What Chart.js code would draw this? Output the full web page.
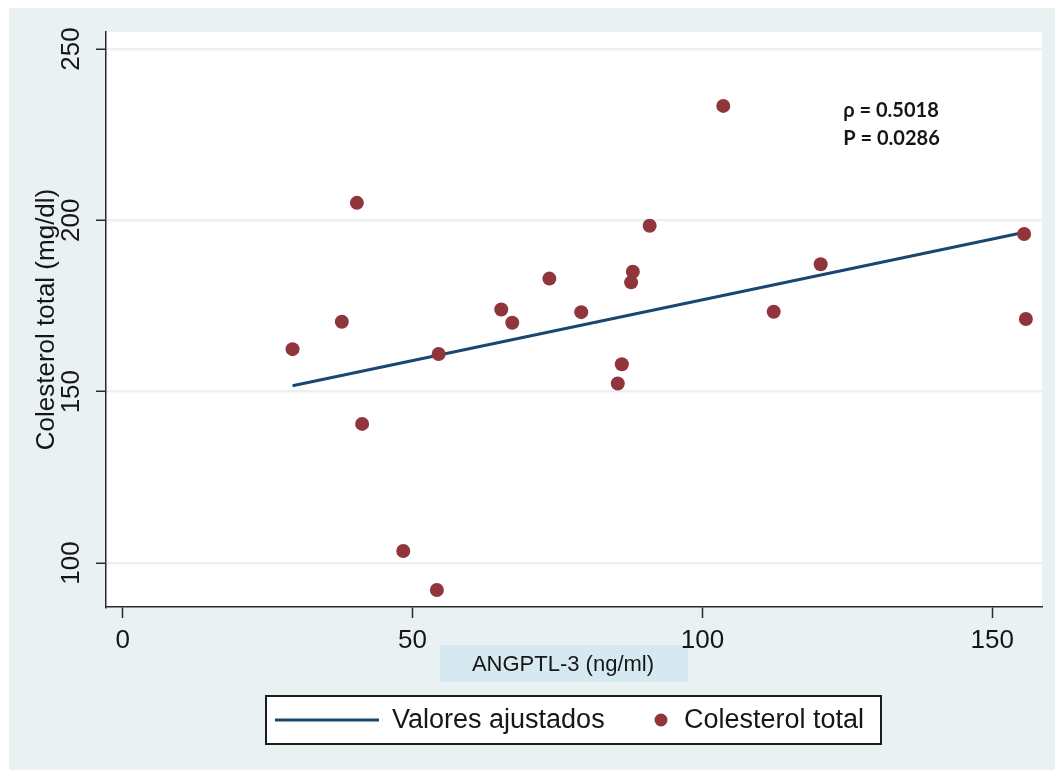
<!DOCTYPE html>
<html>
<head>
<meta charset="utf-8">
<script src="https://cdn.jsdelivr.net/npm/chart.js@4/dist/chart.umd.min.js"></script>
<style>
  html, body { margin: 0; padding: 0; background: #ffffff; }
  canvas { display: block; }
</style>
</head>
<body>
<canvas id="chart" width="1055" height="770"></canvas>
<script>
// ANGPTL-3 (ng/ml) against total cholesterol (mg/dl), one value per patient
const angptl3 = [29.3, 37.8, 40.4, 41.3, 48.4, 54.2, 54.5, 65.3, 67.2, 73.6, 79.1,
                 85.4, 86.1, 87.7, 88.0, 90.9, 103.6, 112.3, 120.4, 155.5, 155.8];
const colesterol = [162.4, 170.4, 205.1, 140.6, 103.5, 92.1, 161.0, 174.0, 170.1, 183.0, 173.2,
                    152.4, 158.0, 181.9, 185.0, 198.4, 233.4, 173.3, 187.2, 196.0, 171.2];

// Fitted regression line, ends at the smallest and largest ANGPTL-3 values
const fitX = [29.3, 155.8];
const fitY = [151.7, 196.6];

const xTicks = [0, 50, 100, 150];
const yTicks = [100, 150, 200, 250];

const seriesNames = ['Valores ajustados', 'Colesterol total'];
const xTitle = 'ANGPTL-3 (ng/ml)';
const yTitle = 'Colesterol total (mg/dl)';
const statsLines = ['\u03C1 = 0.5018', 'P = 0.0286'];

const BG = '#e9f1f3';
const NAVY = '#1a476f';
const MAROON = '#90353b';
const INK = '#161616';
const SANS = '"Liberation Sans", Arial, sans-serif';

const scatterPts = angptl3.map((v, i) => ({ x: v, y: colesterol[i] }));
const fitPts = fitX.map((v, i) => ({ x: v, y: fitY[i] }));

const decorations = {
  id: 'decorations',
  beforeDraw(chart) {
    const { ctx, chartArea: a, width, height } = chart;
    ctx.save();
    ctx.fillStyle = '#ffffff';
    ctx.fillRect(0, 0, width, height);
    ctx.fillStyle = BG;
    ctx.fillRect(9, 8, width - 9, height - 8);
    ctx.fillStyle = '#ffffff';
    ctx.fillRect(a.left, a.top, a.right - a.left, a.bottom - a.top);
    // shaded band behind the x-axis title
    ctx.fillStyle = '#d6e9f1';
    ctx.fillRect(440, 645, 248, 37);
    ctx.restore();
  },
  afterDraw(chart) {
    const { ctx, scales } = chart;
    ctx.save();

    // x-axis title
    ctx.fillStyle = INK;
    ctx.font = '22px ' + SANS;
    ctx.textAlign = 'center';
    ctx.textBaseline = 'middle';
    ctx.fillText(xTitle, 563, 665);

    // correlation statistics
    ctx.font = 'bold 20px Lato, "Open Sans", sans-serif';
    ctx.textAlign = 'left';
    const sx = scales.x.getPixelForValue(124.3);
    ctx.fillText(statsLines[0], sx, scales.y.getPixelForValue(231.9));
    ctx.fillText(statsLines[1], sx, scales.y.getPixelForValue(224.0));

    // legend box
    const lx = 265, ly = 695, lw = 617, lh = 50, cy = 720;
    ctx.fillStyle = '#ffffff';
    ctx.fillRect(lx, ly, lw, lh);
    ctx.strokeStyle = '#1c1c1c';
    ctx.lineWidth = 2;
    ctx.strokeRect(lx + 1, ly + 1, lw - 2, lh - 2);

    ctx.strokeStyle = NAVY;
    ctx.lineWidth = 3;
    ctx.beginPath();
    ctx.moveTo(275, cy);
    ctx.lineTo(379, cy);
    ctx.stroke();

    ctx.fillStyle = MAROON;
    ctx.beginPath();
    ctx.arc(661, cy, 6.5, 0, Math.PI * 2);
    ctx.fill();

    ctx.fillStyle = INK;
    ctx.font = '27px ' + SANS;
    ctx.textBaseline = 'middle';
    ctx.fillText(seriesNames[0], 392, cy + 1);
    ctx.fillText(seriesNames[1], 684, cy + 1);

    ctx.restore();
  }
};

new Chart(document.getElementById('chart'), {
  type: 'scatter',
  data: {
    datasets: [
      {
        label: seriesNames[1],
        data: scatterPts,
        backgroundColor: MAROON,
        borderWidth: 0,
        pointRadius: 7,
        pointHoverRadius: 7
      },
      {
        type: 'line',
        label: seriesNames[0],
        data: fitPts,
        borderColor: NAVY,
        borderWidth: 3,
        pointRadius: 0,
        fill: false,
        tension: 0
      }
    ]
  },
  options: {
    responsive: false,
    animation: false,
    events: [],
    layout: { padding: { left: 0, top: 32, right: 13, bottom: 0 } },
    plugins: {
      legend: { display: false },
      tooltip: { enabled: false }
    },
    scales: {
      x: {
        type: 'linear',
        min: -2.88,
        max: 158.58,
        afterBuildTicks: (s) => { s.ticks = xTicks.map(v => ({ value: v })); },
        afterFit: (s) => { s.height = 163; },
        grid: {
          drawOnChartArea: false,
          drawTicks: true,
          tickLength: 11,
          tickColor: '#2a2a2a',
          tickWidth: 1.5
        },
        border: { display: true, color: '#2a2a2a', width: 1.5 },
        ticks: {
          autoSkip: false,
          maxRotation: 0,
          minRotation: 0,
          padding: 7,
          color: INK,
          font: { family: SANS, size: 26 }
        }
      },
      y: {
        type: 'linear',
        min: 87.16,
        max: 254.96,
        afterBuildTicks: (s) => { s.ticks = yTicks.map(v => ({ value: v })); },
        afterFit: (s) => { s.width = 106; },
        grid: {
          color: BG,
          lineWidth: 2.5,
          drawTicks: true,
          tickLength: 10,
          tickColor: '#2a2a2a',
          tickWidth: 1.5
        },
        border: { display: true, color: '#2a2a2a', width: 1.5 },
        ticks: {
          autoSkip: false,
          minRotation: 90,
          maxRotation: 90,
          crossAlign: 'center',
          padding: 2,
          color: INK,
          font: { family: SANS, size: 26 }
        },
        title: {
          display: true,
          text: yTitle,
          color: INK,
          font: { family: SANS, size: 26 },
          padding: { top: 31, bottom: 0 }
        }
      }
    }
  },
  plugins: [decorations]
});
</script>
</body>
</html>
